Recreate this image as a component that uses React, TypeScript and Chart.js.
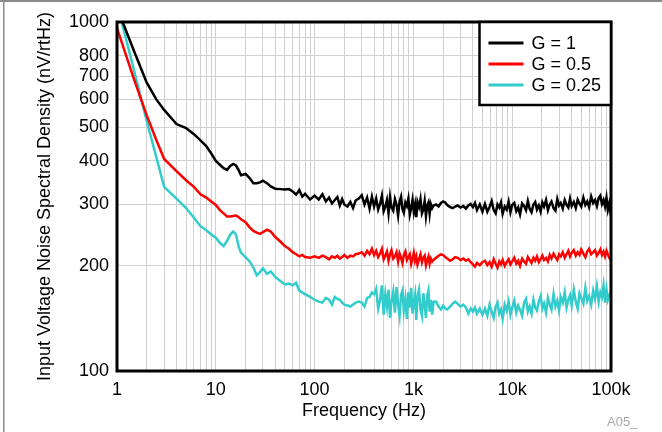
import React, { useEffect, useRef } from "react";
import { Chart, registerables } from "chart.js";

Chart.register(...registerables);

const FONT = '"Liberation Sans", Arial, Helvetica, sans-serif';

// Frequency (Hz)
const freqs = [
  1, 1.5, 2, 2.5, 3, 4, 5, 6, 7, 8, 9, 10, 11, 12, 13, 14, 15, 16, 17, 18, 20, 22, 24, 26, 28, 30, 33, 36, 40, 45, 50, 55, 60, 65, 70, 75, 80, 90, 100,
  110, 120, 130, 140, 150, 160, 170, 180, 190, 200, 215, 230, 245, 260, 280, 300, 320, 340, 360, 380, 400,
  420, 440, 460, 480, 500, 520, 540, 560, 580, 600, 625, 650, 675, 700, 725, 750, 775, 800, 830, 860, 890, 920, 950, 980, 1010, 1040, 1070, 1100, 1140, 1180, 1220, 1260, 1300, 1340, 1380, 1420, 1460, 1500, 1550, 1600,
  1700, 1800, 1900, 2000, 2100, 2200, 2350, 2500, 2650, 2800, 3000, 3200, 3400, 3600, 3800, 4000, 4200, 4400, 4700, 5000,
  5300, 5600, 5900, 6200, 6500, 6800, 7100, 7400, 7700, 8000, 8400, 8800, 9200, 9600, 10000, 10500, 11000, 11500, 12000, 12600,
  13200, 13800, 14400, 15000, 15700, 16400, 17100, 17800, 18600, 19400, 20200, 21000, 22000, 23000, 24000, 25000, 26200, 27400, 28600, 29800,
  31000, 32500, 34000, 35500, 37000, 38500, 40000, 42000, 44000, 46000, 48000, 50000, 52500, 55000, 57500, 60000, 63000, 66000, 69000, 72000,
  75000, 78000, 81000, 84000, 87000, 90000, 93000, 96000, 100000,
];

// G = 1 (nV/rtHz)
const gain1 = [
  1100, 820, 670, 600, 560, 510, 497, 477, 458, 441, 420, 400, 390, 381, 377, 387, 392, 388, 377, 364, 367, 357, 345, 345, 347, 351, 345, 338, 333, 332, 331, 332, 327, 320, 330, 316, 322, 310, 318,
  310, 321, 306, 314, 302, 309, 315, 298, 311, 300, 296, 305, 293, 308, 312, 319, 300, 314, 292, 316, 296,
  312, 290, 301, 318, 287, 296, 309, 283, 315, 294, 288, 311, 300, 279, 306, 316, 291, 284, 304, 297,
  312, 281, 293, 309, 286, 300, 276, 305, 295, 311, 283, 290, 307, 278, 298, 304, 282, 301, 293, 298,
  300, 296, 303, 306, 304, 299, 295, 293, 296, 298, 294, 297, 292, 298, 301, 295, 303, 289, 300, 286,
  301, 286, 295, 307, 289, 283, 300, 294, 304, 282, 296, 290, 306, 285, 299, 303, 287, 294, 281, 302,
  297, 289, 307, 292, 285, 300, 305, 290, 298, 286, 304, 296, 309, 289, 300, 306, 293, 288, 311, 298,
  303, 292, 309, 299, 294, 312, 297, 305, 293, 310, 302, 296, 314, 299, 306, 295, 316, 303, 309, 297,
  313, 318, 301, 309, 296, 314, 290, 302, 279,
];

// G = 0.5 (nV/rtHz)
const gain05 = [
  961, 680, 540, 459, 405, 374, 352, 337, 321, 314, 306, 299, 289, 283, 277, 277, 278, 279, 276, 272, 267, 258, 252, 249, 247, 250, 254, 251, 242, 235, 228, 224, 219, 216, 213, 215, 212, 211, 213,
  211, 214, 212, 209, 213, 211, 214, 210, 212, 215, 211, 214, 213, 216, 217, 219, 214, 221, 216, 224, 215,
  221, 212, 217, 224, 209, 214, 220, 207, 216, 222, 210, 213, 219, 206, 217, 211, 204, 215, 220, 208,
  212, 216, 203, 210, 218, 207, 213, 202, 209, 216, 205, 211, 214, 201, 208, 213, 203, 210, 206, 208,
  211, 214, 216, 215, 212, 210, 207, 209, 212, 211, 208, 210, 207, 209, 205, 202, 199, 204, 201, 205,
  207, 201, 205, 199, 209, 203, 198, 206, 202, 208, 200, 205, 209, 202, 206, 211, 203, 207, 200, 210,
  206, 203, 212, 208, 204, 211, 207, 213, 205, 209, 214, 208, 211, 206, 215, 210, 217, 212, 208, 216,
  213, 219, 211, 216, 221, 213, 218, 222, 214, 219, 215, 223, 217, 212, 220, 224, 216, 219, 222, 214,
  218, 223, 215, 220, 213, 221, 216, 211, 208,
];

// G = 0.25 (nV/rtHz)
const gain025 = [
  1130, 720, 520, 410, 337, 312, 293, 275, 260, 253, 246, 241, 233, 228, 236, 246, 251, 246, 228, 218, 212, 206, 198, 188, 192, 197, 190, 193, 186, 181, 177, 178, 176, 179, 170, 168, 166, 163, 160,
  158, 157, 162, 160, 155, 163, 161, 160, 157, 155, 154, 153, 155, 157, 158, 157, 153, 162, 163, 168, 166,
  172, 151, 160, 176, 145, 166, 153, 171, 142, 158, 169, 147, 174, 155, 144, 165, 170, 149, 161, 141,
  168, 152, 173, 146, 158, 166, 140, 163, 171, 150, 144, 167, 155, 142, 164, 170, 148, 160, 145, 158,
  158, 153, 150, 154, 151, 150, 153, 156, 158, 156, 153, 155, 152, 146, 151, 148, 152, 146, 151, 145,
  151, 144, 155, 148, 142, 153, 157, 146, 150, 141, 155, 149, 158, 145, 152, 159, 147, 154, 150, 144,
  157, 161, 148, 153, 146, 160, 152, 149, 158, 164, 151, 156, 147, 162, 155, 150, 166, 153, 159, 149,
  163, 157, 168, 152, 160, 165, 154, 171, 158, 151, 167, 162, 156, 173, 159, 164, 155, 170, 161, 175,
  158, 168, 163, 176, 157, 171, 160, 165, 169,
];

const seriesLabels = ["G = 1", "G = 0.5", "G = 0.25"];
const seriesColors = ["#000000", "#ff0000", "#33cccc"];

const xTickValues = [
  1, 2, 3, 4, 5, 6, 7, 8, 9,
  10, 20, 30, 40, 50, 60, 70, 80, 90,
  100, 200, 300, 400, 500, 600, 700, 800, 900,
  1000, 2000, 3000, 4000, 5000, 6000, 7000, 8000, 9000,
  10000, 20000, 30000, 40000, 50000, 60000, 70000, 80000, 90000,
  100000,
];
const xTickLabels: Record<number, string> = { 1: "1", 10: "10", 100: "100", 1000: "1k", 10000: "10k", 100000: "100k" };

const yTickValues = [100, 200, 300, 400, 500, 600, 700, 800, 900, 1000];
const yTickLabels: Record<number, string> = {
  100: "100", 200: "200", 300: "300", 400: "400", 500: "500", 600: "600", 700: "700", 800: "800", 1000: "1000",
};

const xTitle = "Frequency (Hz)";
const yTitle = "Input Voltage Noise Spectral Density (nV/rtHz)";
const figureTag = "A05_";

const decorPlugin = {
  id: "decor",
  beforeDraw(chart: any) {
    const { ctx, width, height } = chart;
    ctx.save();
    ctx.fillStyle = "#ffffff";
    ctx.fillRect(0, 0, width, height);
    ctx.fillStyle = "#8a8a8a";
    ctx.fillRect(0, 0, width, 2);
    ctx.fillRect(3, 0, 1.5, height);
    ctx.restore();
  },
  afterDatasetsDraw(chart: any) {
    const { ctx, chartArea } = chart;
    const { left, top, right, bottom } = chartArea;
    ctx.save();
    // plot frame
    ctx.strokeStyle = "#000000";
    ctx.lineWidth = 3;
    ctx.strokeRect(left, top, right - left, bottom - top);

    // legend
    const lx = 479.5;
    const ly = top;
    const lw = right - lx;
    const lh = 83;
    ctx.fillStyle = "#ffffff";
    ctx.fillRect(lx, ly, lw, lh);
    ctx.lineWidth = 2.5;
    ctx.strokeStyle = "#000000";
    ctx.strokeRect(lx, ly, lw, lh);
    ctx.font = `18px ${FONT}`;
    ctx.textBaseline = "middle";
    ctx.textAlign = "left";
    chart.data.datasets.forEach((ds: any, i: number) => {
      const yy = ly + 21 + i * 21;
      ctx.strokeStyle = ds.borderColor;
      ctx.lineWidth = 3;
      ctx.beginPath();
      ctx.moveTo(lx + 9, yy);
      ctx.lineTo(lx + 44, yy);
      ctx.stroke();
      ctx.fillStyle = "#000000";
      ctx.fillText(ds.label, lx + 52, yy + 1);
    });

    // figure tag
    ctx.fillStyle = "#a8a8a8";
    ctx.font = `13px ${FONT}`;
    ctx.textBaseline = "middle";
    ctx.fillText(figureTag, 607, 422);
    ctx.restore();
  },
};

export default function App() {
  const canvasRef = useRef<HTMLCanvasElement | null>(null);

  useEffect(() => {
    const canvas = canvasRef.current;
    if (!canvas) return;
    const series = [gain1, gain05, gain025];
    const chart = new Chart(canvas, {
      type: "line",
      data: {
        datasets: series.map((vals, i) => ({
          label: seriesLabels[i],
          data: freqs.map((f, j) => ({ x: f, y: vals[j] })),
          borderColor: seriesColors[i],
          backgroundColor: seriesColors[i],
          borderWidth: 2.5,
          pointRadius: 0,
          tension: 0,
          fill: false,
        })),
      },
      options: {
        responsive: false,
        animation: false,
        devicePixelRatio: 1,
        layout: { padding: { left: 0, top: 22, right: 51, bottom: 0 } },
        plugins: {
          legend: { display: false },
          tooltip: { enabled: false },
          title: { display: false },
        },
        scales: {
          x: {
            type: "logarithmic",
            min: 1,
            max: 100000,
            afterBuildTicks: (scale: any) => {
              scale.ticks = xTickValues.map((v) => ({ value: v }));
            },
            afterFit: (scale: any) => {
              scale.height = 61;
            },
            grid: { color: "#d0d0d0", lineWidth: 1, drawTicks: false },
            border: { display: false },
            ticks: {
              autoSkip: false,
              maxRotation: 0,
              padding: 8,
              color: "#000000",
              font: { family: FONT, size: 18 },
              callback: (value: any) => xTickLabels[Number(value)] ?? "",
            },
            title: {
              display: true,
              text: xTitle,
              color: "#000000",
              font: { family: FONT, size: 18 },
              padding: { top: 0, bottom: 10 },
            },
          },
          y: {
            type: "logarithmic",
            min: 100,
            max: 1000,
            afterBuildTicks: (scale: any) => {
              scale.ticks = yTickValues.map((v) => ({ value: v }));
            },
            afterFit: (scale: any) => {
              scale.width = 117;
            },
            grid: { color: "#d0d0d0", lineWidth: 1, drawTicks: false },
            border: { display: false },
            ticks: {
              autoSkip: false,
              padding: 8,
              color: "#000000",
              font: { family: FONT, size: 18 },
              callback: (value: any) => yTickLabels[Number(value)] ?? "",
            },
            title: {
              display: true,
              text: yTitle,
              color: "#000000",
              font: { family: FONT, size: 18 },
              padding: { top: 34, bottom: 0 },
            },
          },
        },
      },
      plugins: [decorPlugin],
    });
    return () => chart.destroy();
  }, []);

  return (
    <div style={{ position: "absolute", left: 0, top: 0, width: 662, height: 432, background: "#ffffff" }}>
      <canvas ref={canvasRef} width={662} height={432} style={{ display: "block" }} />
    </div>
  );
}
